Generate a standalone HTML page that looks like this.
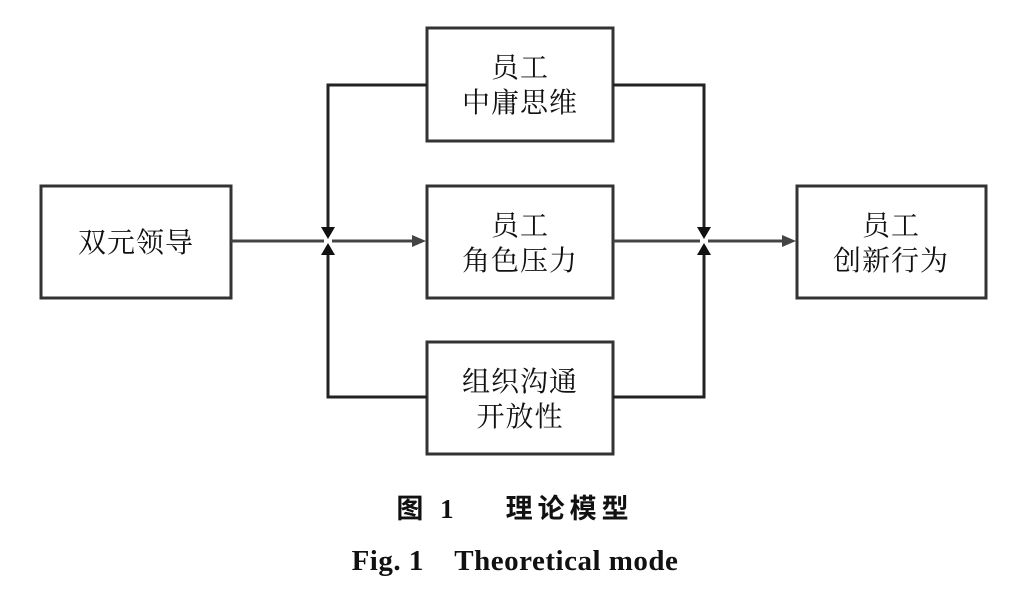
<!DOCTYPE html>
<html><head><meta charset="utf-8"><style>
html,body{margin:0;padding:0;background:#fff;}
svg{display:block}
.t{font-family:"Noto Serif CJK SC","Liberation Serif",serif;font-size:28px;fill:#111;text-anchor:middle;letter-spacing:1px}
</style></head><body>
<svg width="1020" height="596" viewBox="0 0 1020 596" xmlns="http://www.w3.org/2000/svg">
<g fill="none" stroke="#333" stroke-width="3">
<rect x="41" y="186" width="190" height="112"/>
<rect x="427" y="28" width="186" height="113"/>
<rect x="427" y="186" width="186" height="112"/>
<rect x="427" y="342" width="186" height="112"/>
<rect x="797" y="186" width="189" height="112"/>
</g>
<g fill="none" stroke="#222" stroke-width="3">
<polyline points="427,85 328,85 328,228"/>
<polyline points="427,397 328,397 328,254"/>
<polyline points="613,85 704,85 704,228"/>
<polyline points="613,397 704,397 704,254"/>
</g>
<g stroke="#444" stroke-width="3">
<line x1="231" y1="241" x2="324" y2="241"/>
<line x1="332" y1="241" x2="414" y2="241"/>
<line x1="613" y1="241" x2="700" y2="241"/>
<line x1="708" y1="241" x2="784" y2="241"/>
</g>
<g fill="#111">
<polygon points="321,227 335,227 328,239"/>
<polygon points="321,255 335,255 328,243"/>
<polygon points="697,227 711,227 704,239"/>
<polygon points="697,255 711,255 704,243"/>
<polygon points="412,235 412,247 426,241" fill="#444"/>
<polygon points="782,235 782,247 796,241" fill="#444"/>
</g>
<text class="t" x="136" y="252">双元领导</text>
<text class="t" x="520" y="77">员工</text>
<text class="t" x="520" y="112">中庸思维</text>
<text class="t" x="520" y="235">员工</text>
<text class="t" x="520" y="270">角色压力</text>
<text class="t" x="520" y="391">组织沟通</text>
<text class="t" x="520" y="426">开放性</text>
<text class="t" x="891" y="235">员工</text>
<text class="t" x="891" y="270">创新行为</text>
<text x="515" y="518" style="font-family:'Liberation Serif','Noto Sans CJK SC',sans-serif;font-size:27px;font-weight:bold;fill:#111;text-anchor:middle;letter-spacing:5px" xml:space="preserve">图 1    理论模型</text>
<text x="515" y="570" style="font-family:'Liberation Serif',serif;font-size:29px;font-weight:bold;fill:#111;text-anchor:middle;letter-spacing:0.5px" xml:space="preserve">Fig. 1    Theoretical mode</text>
</svg>
</body></html>
